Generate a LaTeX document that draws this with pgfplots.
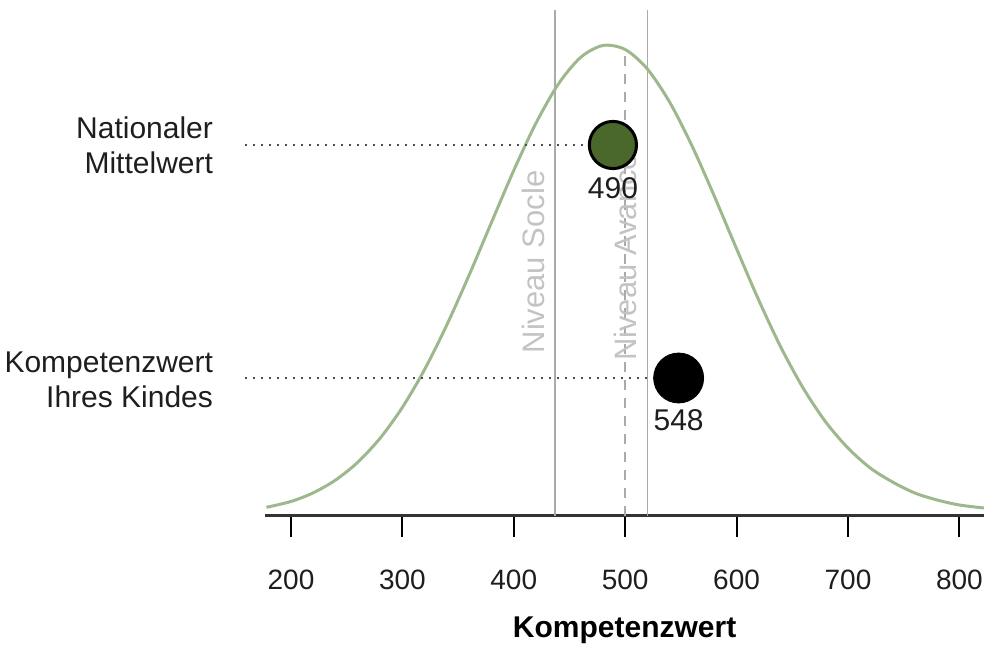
\documentclass[border=0pt]{standalone}
\usepackage{pgfplots}
\pgfplotsset{compat=1.18}
\usepackage{fontspec}
\setmainfont{Liberation Sans}
\definecolor{curvegreen}{RGB}{158,184,142}
\definecolor{dotgreen}{RGB}{74,104,44}
\definecolor{lvlgray}{RGB}{170,170,170}
\definecolor{lvltext}{RGB}{195,195,195}
\definecolor{txt}{RGB}{30,30,30}

\begin{document}
\begin{tikzpicture}
\begin{axis}[
  x=0.557pt, y=0.5pt,
  xmin=177, xmax=822, ymin=0, ymax=506,
  axis x line=bottom, axis y line=none,
  x axis line style={-, line width=1.5pt, color=black!80},
  xtick={200,300,...,800},
  ytick=\empty,
  tick align=outside,
  major tick length=10.5pt,
  xtick style={black, line width=1pt},
  xticklabel style={font=\fontsize{14}{16}\selectfont, text=txt, yshift=-13pt},
  /pgf/number format/assume math mode=true,
  xlabel={\textbf{Kompetenzwert}},
  every axis x label/.style={at={(axis cs:499.5,-114)}, anchor=center,
    font=\fontsize{15}{18}\selectfont, text=black},
  clip=false,
]

% level lines
\addplot[lvlgray, line width=0.75pt] coordinates {(437,0) (437,506)};
\addplot[lvlgray, line width=0.75pt] coordinates {(520,0) (520,506)};
\addplot[lvlgray, line width=0.75pt, dash pattern=on 5pt off 4pt] coordinates {(500,0) (500,466)};

% distribution
\addplot[curvegreen, line width=1.5pt, smooth] table {
178 8.7
200 14.5
220 23.2
240 35.9
260 53.8
280 77.8
300 108.6
320 146.6
340 191.3
360 241.1
380 293.6
400 345.6
420 393.0
440 431.9
460 458.6
480 470.5
500 466.5
520 446.9
540 413.7
560 370.1
580 319.9
600 267.2
620 215.6
640 168.2
660 127.5
680 94.0
700 68.0
720 48.0
740 34.0
760 23.0
780 16.0
800 11.0
822 8.0
};

\node[rotate=90, text=lvltext, font=\fontsize{15.5}{18}\selectfont] at (axis cs:418,254) {Niveau Socle};
\node[rotate=90, anchor=west, text=lvltext, font=\fontsize{15.5}{18}\selectfont] at (axis cs:500,148) {Niveau Avancé};

% guide lines
\addplot[black!70, line width=1pt, dash pattern=on 1pt off 3pt] coordinates {(158.7,371) (489,371)};
\addplot[black!70, line width=1pt, dash pattern=on 1pt off 3pt] coordinates {(158.7,138) (548,138)};

% scores
\addplot[only marks, mark=*, mark size=11.8pt,
  mark options={fill=dotgreen, draw=black, line width=1.5pt}] coordinates {(489,371)};
\addplot[only marks, mark=*, mark size=12.5pt,
  mark options={fill=black, draw=black}] coordinates {(548,138)};

\node[font=\fontsize{15}{18}\selectfont, text=txt] at (axis cs:489,328) {490};
\node[font=\fontsize{15}{18}\selectfont, text=txt] at (axis cs:548,96) {548};

\node[anchor=east, align=right, font=\fontsize{15}{17.5}\selectfont, text=txt]
  at (axis cs:136.3,371) {Nationaler\\Mittelwert};
\node[anchor=east, align=right, font=\fontsize{15}{17.5}\selectfont, text=txt]
  at (axis cs:136.3,136) {Kompetenzwert\\Ihres Kindes};

\coordinate (bbA) at (axis cs:-61.2,-132);
\coordinate (bbB) at (axis cs:822.1,516);
\end{axis}
\pgfresetboundingbox
\path[use as bounding box] (bbA) rectangle (bbB);
\end{tikzpicture}
\end{document}
